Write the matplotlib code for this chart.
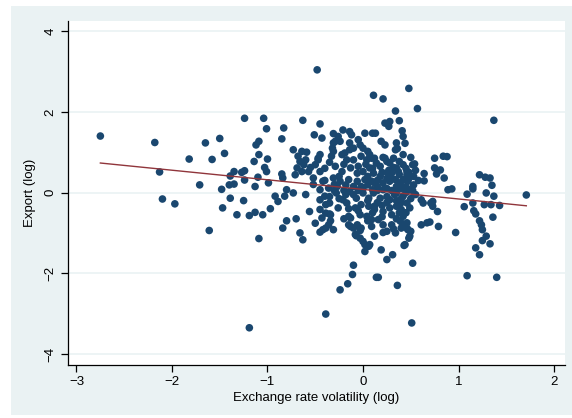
import numpy as np
import matplotlib.pyplot as plt
from matplotlib.patches import Rectangle

plt.rcParams['font.family'] = ['Liberation Sans', 'DejaVu Sans']

# exchange rate volatility (log), export (log) -- one pair per observation
pairs = [
    (-2.75, 1.40), (-2.18, 1.24), (-2.13, 0.51), (-2.10, -0.16), (-1.97, -0.28),
    (-1.82, 0.83), (-1.71, 0.19), (-1.65, 1.23), (-1.61, -0.94), (-1.58, 0.82),
    (-1.50, 1.34), (-1.48, 0.08), (-1.47, -0.38), (-1.45, 0.97), (-1.40, 0.19),
    (-1.39, 0.41), (-1.39, -0.14), (-1.35, 0.52), (-1.35, 0.21), (-1.32, -0.55),
    (-1.27, 0.50), (-1.25, -0.20), (-1.24, 1.84), (-1.24, 0.54), (-1.24, 0.31),
    (-1.19, -0.57), (-1.19, -3.35), (-1.14, 0.77), (-1.13, 0.15), (-1.13, -0.49),
    (-1.12, 1.18), (-1.10, 0.38), (-1.09, 1.27), (-1.09, 0.94), (-1.09, -1.14),
    (-1.05, -0.55), (-1.04, 1.84), (-1.03, 0.62), (-1.01, 1.58), (-1.01, 0.52),
    (-1.00, 0.83), (-0.99, 0.24), (-0.97, -0.40), (-0.92, -0.09), (-0.89, -0.22),
    (-0.85, 0.46), (-0.85, 1.33), (-0.84, 0.36), (-0.84, -0.88), (-0.83, 1.60),
    (-0.82, -0.09), (-0.80, 0.07), (-0.80, -0.70), (-0.73, 1.06), (-0.73, -0.01),
    (-0.71, 0.44), (-0.70, -0.65), (-0.69, 0.61), (-0.68, 0.90), (-0.66, 0.77),
    (-0.66, -1.00), (-0.64, 1.02), (-0.64, 0.52), (-0.63, 1.79), (-0.63, -1.17),
    (-0.62, 0.69), (-0.60, 0.81), (-0.60, -0.05), (-0.59, 1.00), (-0.57, 0.52),
    (-0.56, -0.47), (-0.52, 0.36), (-0.51, 1.43), (-0.50, 0.69), (-0.50, -0.76),
    (-0.48, 3.04), (-0.47, 0.81), (-0.47, 0.85), (-0.45, 0.94), (-0.45, 1.70),
    (-0.45, 0.52), (-0.45, -0.42), (-0.45, -0.98), (-0.45, 0.07), (-0.45, -0.18),
    (-0.43, -0.63), (-0.43, 1.35), (-0.42, 0.28), (-0.42, -0.92), (-0.40, -0.09),
    (-0.39, -3.01), (-0.39, -0.88), (-0.39, -0.51), (-0.39, -0.30), (-0.36, 0.11),
    (-0.36, -0.80), (-0.35, -0.26), (-0.35, -0.53), (-0.34, -0.70), (-0.34, -0.55),
    (-0.33, 0.90), (-0.32, 1.10), (-0.31, 1.46), (-0.31, 1.23), (-0.31, 1.02),
    (-0.31, 0.36), (-0.31, -0.92), (-0.29, 1.27), (-0.29, 0.65), (-0.28, -0.01),
    (-0.27, 0.15), (-0.26, 1.39), (-0.26, -0.38), (-0.24, 1.27), (-0.24, 0.28),
    (-0.24, -2.41), (-0.22, 0.94), (-0.22, 0.52), (-0.21, 1.55), (-0.21, -0.18),
    (-0.19, 0.98), (-0.18, 0.19), (-0.17, 0.81), (-0.17, -0.26), (-0.16, -2.26),
    (-0.15, 0.32), (-0.15, -0.59), (-0.15, -0.80), (-0.14, 1.51), (-0.14, 1.23),
    (-0.14, 1.06), (-0.14, 0.03), (-0.13, 0.61), (-0.13, -0.63), (-0.13, -0.84),
    (-0.12, 1.43), (-0.11, -2.03), (-0.10, 1.10), (-0.10, 0.81), (-0.10, 0.15),
    (-0.10, -0.88), (-0.10, -1.80), (-0.08, -0.38), (-0.08, -1.04), (-0.07, -0.14),
    (-0.07, -1.07), (-0.06, 0.48), (-0.06, 0.28), (-0.06, -0.80), (-0.05, 1.31),
    (-0.03, 1.18), (-0.03, -0.55), (-0.03, -0.94), (-0.03, -1.13), (-0.02, 0.90),
    (-0.02, 0.15), (-0.02, -0.30), (-0.02, -0.88), (0.00, 1.10), (0.00, 0.52),
    (0.00, -0.01), (0.00, -1.21), (0.02, 1.47), (0.02, 0.32), (0.02, -1.29),
    (0.02, -1.46), (0.04, 0.81), (0.04, -0.59), (0.05, 1.02), (0.05, 0.19),
    (0.06, -0.14), (0.06, -0.34), (0.06, -1.33), (0.07, 0.94), (0.07, 0.61),
    (0.07, -1.29), (0.09, 0.85), (0.09, 0.28), (0.09, -0.67), (0.09, -0.84),
    (0.10, 1.47), (0.10, 0.07), (0.11, 2.41), (0.11, 0.48), (0.11, -0.01),
    (0.12, 0.85), (0.12, 0.24), (0.12, -0.34), (0.12, -0.42), (0.12, -1.08),
    (0.13, 1.47), (0.14, 0.73), (0.14, -2.10), (0.16, -2.10), (0.16, -0.67),
    (0.18, 0.40), (0.18, -0.14), (0.19, 1.27), (0.19, -1.42), (0.21, 2.32),
    (0.21, 0.87), (0.21, 0.24), (0.21, 0.07), (0.21, -0.47), (0.21, -0.80),
    (0.21, -0.99), (0.23, 1.72), (0.23, 1.18), (0.23, 0.85), (0.25, 0.77),
    (0.25, -0.96), (0.25, -1.66), (0.26, 0.48), (0.27, 1.64), (0.28, 1.76),
    (0.28, 0.73), (0.28, 0.28), (0.28, -0.18), (0.28, -0.38), (0.30, 0.48),
    (0.31, -1.54), (0.32, 0.85), (0.34, 2.02), (0.34, 1.06), (0.34, 0.32),
    (0.34, -1.00), (0.35, 1.23), (0.35, 0.61), (0.35, -0.01), (0.35, -0.34),
    (0.36, 1.09), (0.36, -2.30), (0.37, 0.52), (0.38, 1.78), (0.38, 0.77),
    (0.39, 0.24), (0.39, -0.71), (0.40, -0.42), (0.40, -0.88), (0.41, 1.53),
    (0.42, 1.39), (0.42, 0.94), (0.42, 0.69), (0.42, 0.32), (0.42, -0.09),
    (0.42, -0.59), (0.42, -0.80), (0.43, -1.31), (0.44, 1.22), (0.44, -1.29),
    (0.46, 0.52), (0.46, 0.44), (0.46, -0.26), (0.46, -0.75), (0.46, -0.88),
    (0.47, 0.28), (0.47, -0.92), (0.48, 2.58), (0.48, -1.13), (0.49, 0.07),
    (0.49, -0.38), (0.49, -1.08), (0.50, 0.87), (0.50, -0.96), (0.51, -3.23),
    (0.52, 0.69), (0.52, -1.75), (0.53, 0.40), (0.53, 0.19), (0.54, 0.71),
    (0.57, 2.08), (0.61, -0.18), (0.61, -0.80), (0.63, -0.26), (0.64, 0.47),
    (0.64, 0.29), (0.67, -0.75), (0.70, -0.73), (0.71, -0.26), (0.73, -0.22),
    (0.73, -0.34), (0.75, 0.85), (0.75, 0.61), (0.77, 0.46), (0.78, -0.47),
    (0.79, -0.84), (0.81, 0.56), (0.84, 0.90), (0.85, 0.36), (0.88, 0.89),
    (0.89, 0.07), (0.93, 0.09), (0.97, -0.99), (1.06, -0.35), (1.09, -0.04),
    (1.09, -2.06), (1.15, 0.15), (1.15, 0.09), (1.15, -0.26), (1.16, -0.45),
    (1.18, -0.53), (1.18, -1.37), (1.22, 0.44), (1.22, -0.70), (1.22, -1.54),
    (1.24, -0.80), (1.25, -0.92), (1.25, -1.19), (1.27, -0.30), (1.28, 0.38),
    (1.29, -0.01), (1.29, -1.08), (1.33, 0.36), (1.33, -1.27), (1.34, -0.30),
    (1.35, 0.18), (1.36, -0.61), (1.37, 1.79), (1.37, -0.09), (1.40, -2.10),
    (1.43, -0.32), (1.71, -0.06),
    # packed core of the cloud
    (-0.30, 0.05), (-0.20, 0.05), (-0.10, -0.05), (0.00, 0.10), (0.15, 0.15),
    (0.25, 0.10), (0.30, 0.05), (0.40, 0.10), (0.45, 0.15), (0.15, -0.25),
    (0.25, -0.25), (0.35, -0.20), (0.40, -0.25), (0.30, -0.55), (0.20, -0.60),
    (0.35, -0.65), (0.45, 0.00), (0.05, 0.40), (-0.05, 0.05), (-0.25, -0.15),
    (-0.05, -0.45), (0.30, 0.35), (0.45, 0.60), (0.38, 0.45), (0.15, 0.30),
    (0.25, 0.35), (0.05, -0.20), (-0.15, -0.40), (0.55, -0.05), (0.50, -0.15),
    (0.55, 0.55), (0.35, 0.15), (0.15, 0.05), (0.25, -0.10), (0.40, -0.15),
    (0.30, -0.80), (0.45, -0.50), (-0.35, -0.10), (-0.40, 0.30), (-0.30, 0.20),
    (0.20, 0.50), (0.32, 0.62), (0.48, 0.35), (0.10, 0.60), (0.18, 0.65),
    (-0.05, 0.65), (-0.20, 0.70), (-0.35, 0.75), (-0.40, 0.60), (-0.55, 0.62),
    (0.33, -0.05), (0.20, -0.32), (0.38, -0.50), (0.05, -0.70), (-0.20, -0.65),
    (0.48, 0.50), (0.27, 0.55), (0.03, 0.70), (-0.25, 0.40), (0.52, 0.05),
    (-0.18, -0.05), (0.10, -0.50), (0.32, -0.90), (-0.52, 0.20), (0.58, 0.30),
]
volatility = np.array([p[0] for p in pairs])
export = np.array([p[1] for p in pairs])

x_ticks = [-3, -2, -1, 0, 1, 2]
y_ticks = [-4, -2, 0, 2, 4]

navy = '#1a476f'
maroon = '#90353b'
region = '#eaf2f3'

fig = plt.figure(figsize=(5.72, 4.18), dpi=100, facecolor='white')
fig.patches.append(Rectangle((11 / 572, 3 / 418), 561 / 572, 409 / 418,
                             transform=fig.transFigure, facecolor=region,
                             edgecolor='none', zorder=-10))
ax = fig.add_axes([67.5 / 572, 1 - 364.5 / 418, 497.5 / 572, 343.5 / 418])
ax.set_facecolor('white')

ax.scatter(volatility, export, s=30, color=navy, edgecolors='none', zorder=3)

# linear fit across the observed range
slope, intercept = np.polyfit(volatility, export, 1)
xs = np.array([volatility.min(), volatility.max()])
ax.plot(xs, intercept + slope * xs, color=maroon, lw=1.0, zorder=4)

ax.set_xlim(-3.094, 2.115)
ax.set_ylim(-4.26, 4.25)
ax.set_xticks(x_ticks)
ax.set_yticks(y_ticks)
ax.set_xticklabels(['\u22123', '\u22122', '\u22121', '0', '1', '2'])
ax.set_yticklabels(['\u22124', '\u22122', '0', '2', '4'], rotation=90, va='center')
ax.grid(axis='y', color=region, lw=1.2, zorder=0)
ax.set_axisbelow(True)
ax.spines['top'].set_visible(False)
ax.spines['right'].set_visible(False)
for s in ('left', 'bottom'):
    ax.spines[s].set_linewidth(0.9)
ax.tick_params(direction='out', length=5, width=0.9, labelsize=9.5, pad=3)

ax.set_xlabel('Exchange rate volatility (log)', fontsize=9.5, labelpad=3)
ax.set_ylabel('Export (log)', fontsize=9.5, labelpad=6)

fig.savefig('out.png', dpi=100, facecolor='white')
